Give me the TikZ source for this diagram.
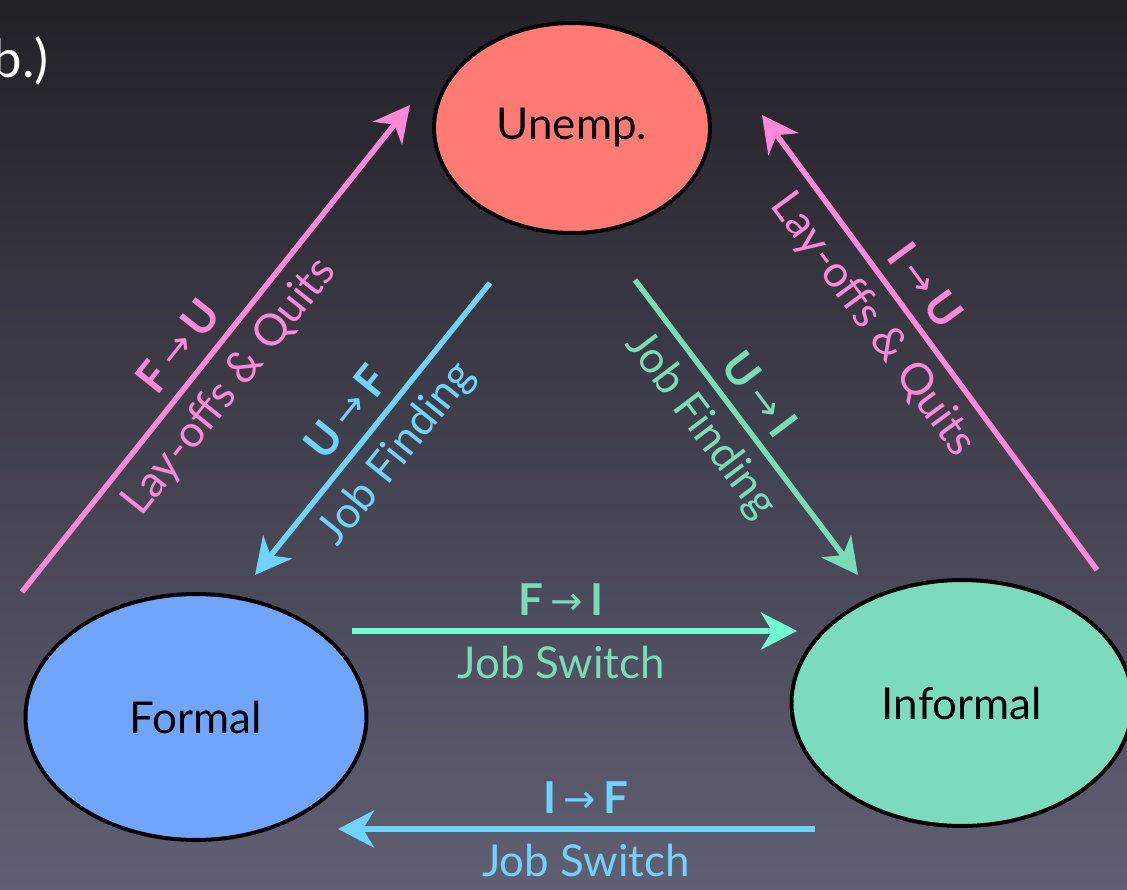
\documentclass[tikz,border=0pt]{standalone}
\usepackage{fontspec}
\setmainfont{Lato}
\newfontfamily\arrowfont{DejaVu Sans}
\usetikzlibrary{shapes.geometric, arrows.meta, positioning}
\definecolor{bgtop}{HTML}{222128}
\definecolor{bgbottom}{HTML}{615F73}
\definecolor{unempred}{HTML}{FF7B73}
\definecolor{formalblue}{HTML}{70A5FB}
\definecolor{informalgreen}{HTML}{7CDBBD}
\definecolor{layoffpink}{HTML}{FF88D8}
\definecolor{findblue}{HTML}{6FD3FF}
\definecolor{findgreen}{HTML}{78DCBA}
\definecolor{switchmint}{HTML}{70FFD5}

\newcommand{\flowlbl}[2]{\textbf{#1}\,\raisebox{1pt}{\arrowfont\fontsize{22}{22}\selectfont →}\,\textbf{#2}}

\begin{document}
\begin{tikzpicture}[x=0.02cm, y=-0.02cm, font=\fontsize{25}{30}\selectfont]
\tikzstyle{state} = [ellipse, draw=black, line width=0.08cm, text=black]
\tikzstyle{flow} = [line width=0.11cm, -{Stealth[length=0.72cm, width=0.74cm, inset=0.22cm]}]

\shade[top color=bgtop, bottom color=bgbottom] (0,0) rectangle (1127,890);
\useasboundingbox (0,0) rectangle (1127,890);

\node (prev) [anchor=base east, text=white, font=\fontsize{30}{34}\selectfont] at (55,77) {ob.)};

\node (unemp) [state, fill=unempred, minimum width=5.52cm, minimum height=4.2cm] at (572,128) {Unemp.};
\node (formal) [state, fill=formalblue, minimum width=6.82cm, minimum height=4.92cm] at (196,717) {Formal};
\node (informal) [state, fill=informalgreen, minimum width=6.82cm, minimum height=4.92cm] at (962,703) {Informal};

\coordinate (fuStart) at (22,592);   \coordinate (fuEnd) at (410,105);
\coordinate (ufStart) at (490,283);  \coordinate (ufEnd) at (255,575);
\coordinate (uiStart) at (635,280);  \coordinate (uiEnd) at (858,575);
\coordinate (iuStart) at (1097,570); \coordinate (iuEnd) at (762,115);
\coordinate (fiStart) at (352,631);  \coordinate (fiEnd) at (797,631);
\coordinate (ifStart) at (815,829);  \coordinate (ifEnd) at (338,829);

% flows between the three states
\draw[flow, layoffpink] (fuStart) -- (fuEnd)
  node (fuTop) [pos=.465, sloped, above, inner sep=7pt] {\flowlbl{F}{U}}
  node (fuBot) [pos=.465, sloped, below, inner sep=7pt] {Lay-offs \& Quits};
\draw[flow, findblue] (ufStart) -- (ufEnd)
  node (ufTop) [pos=.51, sloped, above, inner sep=7pt] {\flowlbl{U}{F}}
  node (ufBot) [pos=.51, sloped, below, inner sep=7pt] {Job Finding};
\draw[flow, findgreen] (uiStart) -- (uiEnd)
  node (uiTop) [pos=.45, sloped, above, inner sep=7pt] {\flowlbl{U}{I}}
  node (uiBot) [pos=.42, sloped, below, inner sep=7pt] {Job Finding};
\draw[flow, layoffpink] (iuStart) -- (iuEnd)
  node (iuTop) [pos=.585, sloped, above, inner sep=7pt] {\flowlbl{I}{U}}
  node (iuBot) [pos=.585, sloped, below, inner sep=7pt] {Lay-offs \& Quits};
\draw[flow, switchmint] (fiStart) -- (fiEnd)
  node (fiTop) [pos=.47, above, inner sep=7pt, findgreen] {\flowlbl{F}{I}}
  node (fiBot) [pos=.47, below, inner sep=7pt, findgreen] {Job Switch};
\draw[flow, findblue] (ifStart) -- (ifEnd)
  node (ifTop) [pos=.48, above, inner sep=7pt] {\flowlbl{I}{F}}
  node (ifBot) [pos=.48, below, inner sep=7pt] {Job Switch};

\end{tikzpicture}
\end{document}
